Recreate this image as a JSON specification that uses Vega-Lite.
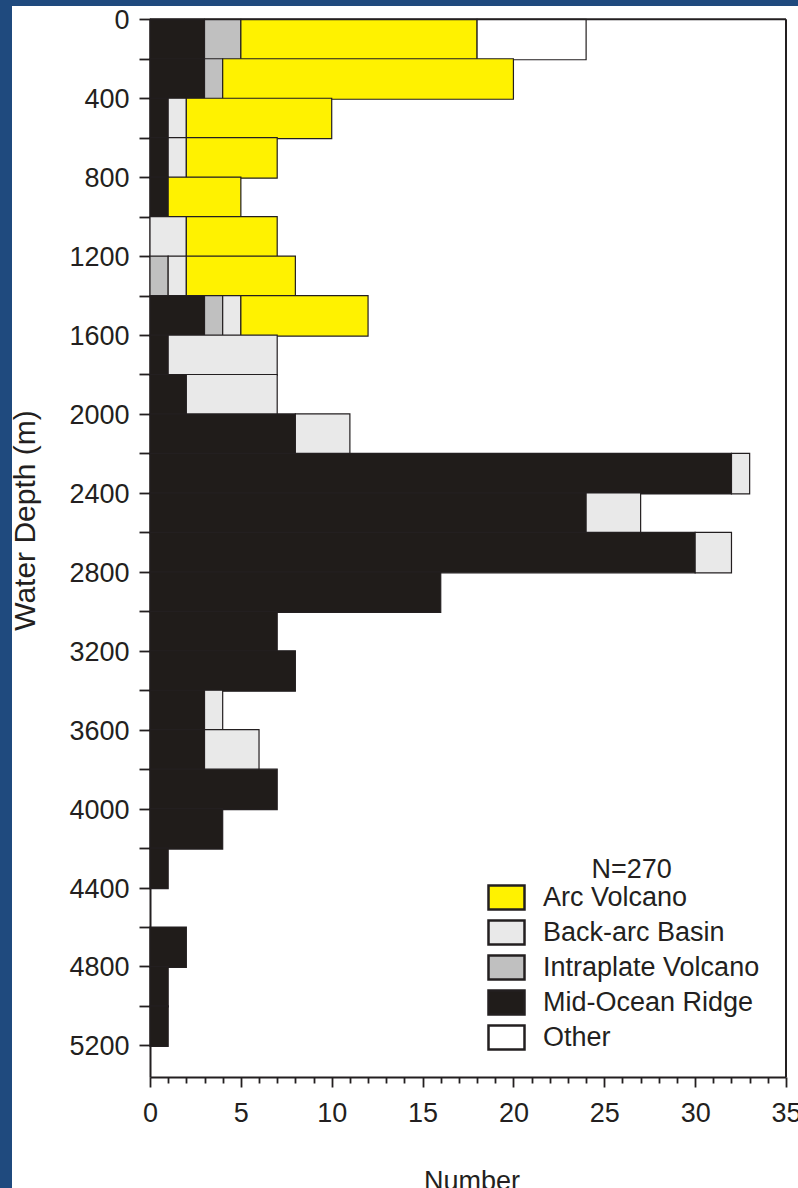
{
  "$schema": "https://vega.github.io/schema/vega-lite/v6.json",
  "width": 786,
  "height": 1182,
  "autosize": {"type": "none"},
  "padding": {"left": 12, "top": 6, "right": 0, "bottom": 0},
  "background": "#1f4a7e",
  "config": {
    "view": {"fill": "#ffffff", "stroke": null},
    "font": "Liberation Sans",
    "axis": {
      "labelFont": "Liberation Sans",
      "titleFont": "Liberation Sans",
      "labelColor": "#231f20",
      "titleColor": "#231f20",
      "domainColor": "#231f20",
      "tickColor": "#231f20",
      "grid": false,
      "labelOverlap": false,
      "labelFlush": false,
      "labelBound": false,
      "labelFontSize": 27,
      "titleFontWeight": "normal",
      "tickWidth": 1.8,
      "domainWidth": 2
    },
    "axisY": {
      "offset": -138,
      "labelPadding": 10,
      "labelOffset": 1.5,
      "labelBaseline": "middle",
      "tickSize": 11,
      "titleFontSize": 30,
      "titleAngle": -90,
      "titleAlign": "center",
      "titleBaseline": "middle",
      "titleX": -125,
      "titleY": 514
    },
    "axisX": {
      "offset": -111,
      "labelPadding": 13,
      "labelBaseline": "top",
      "titleFontSize": 27,
      "titleBaseline": "top",
      "titleX": 459.5,
      "titleY": 91
    }
  },
  "layer": [
    {
      "data": {
        "values": [
          {"d0": 0, "d1": 200, "type": "Mid-Ocean Ridge", "n": 3},
          {"d0": 0, "d1": 200, "type": "Intraplate Volcano", "n": 2},
          {"d0": 0, "d1": 200, "type": "Arc Volcano", "n": 13},
          {"d0": 0, "d1": 200, "type": "Other", "n": 6},
          {"d0": 200, "d1": 400, "type": "Mid-Ocean Ridge", "n": 3},
          {"d0": 200, "d1": 400, "type": "Intraplate Volcano", "n": 1},
          {"d0": 200, "d1": 400, "type": "Arc Volcano", "n": 16},
          {"d0": 400, "d1": 600, "type": "Mid-Ocean Ridge", "n": 1},
          {"d0": 400, "d1": 600, "type": "Back-arc Basin", "n": 1},
          {"d0": 400, "d1": 600, "type": "Arc Volcano", "n": 8},
          {"d0": 600, "d1": 800, "type": "Mid-Ocean Ridge", "n": 1},
          {"d0": 600, "d1": 800, "type": "Back-arc Basin", "n": 1},
          {"d0": 600, "d1": 800, "type": "Arc Volcano", "n": 5},
          {"d0": 800, "d1": 1000, "type": "Mid-Ocean Ridge", "n": 1},
          {"d0": 800, "d1": 1000, "type": "Arc Volcano", "n": 4},
          {"d0": 1000, "d1": 1200, "type": "Back-arc Basin", "n": 2},
          {"d0": 1000, "d1": 1200, "type": "Arc Volcano", "n": 5},
          {"d0": 1200, "d1": 1400, "type": "Intraplate Volcano", "n": 1},
          {"d0": 1200, "d1": 1400, "type": "Back-arc Basin", "n": 1},
          {"d0": 1200, "d1": 1400, "type": "Arc Volcano", "n": 6},
          {"d0": 1400, "d1": 1600, "type": "Mid-Ocean Ridge", "n": 3},
          {"d0": 1400, "d1": 1600, "type": "Intraplate Volcano", "n": 1},
          {"d0": 1400, "d1": 1600, "type": "Back-arc Basin", "n": 1},
          {"d0": 1400, "d1": 1600, "type": "Arc Volcano", "n": 7},
          {"d0": 1600, "d1": 1800, "type": "Mid-Ocean Ridge", "n": 1},
          {"d0": 1600, "d1": 1800, "type": "Back-arc Basin", "n": 6},
          {"d0": 1800, "d1": 2000, "type": "Mid-Ocean Ridge", "n": 2},
          {"d0": 1800, "d1": 2000, "type": "Back-arc Basin", "n": 5},
          {"d0": 2000, "d1": 2200, "type": "Mid-Ocean Ridge", "n": 8},
          {"d0": 2000, "d1": 2200, "type": "Back-arc Basin", "n": 3},
          {"d0": 2200, "d1": 2400, "type": "Mid-Ocean Ridge", "n": 32},
          {"d0": 2200, "d1": 2400, "type": "Back-arc Basin", "n": 1},
          {"d0": 2400, "d1": 2600, "type": "Mid-Ocean Ridge", "n": 24},
          {"d0": 2400, "d1": 2600, "type": "Back-arc Basin", "n": 3},
          {"d0": 2600, "d1": 2800, "type": "Mid-Ocean Ridge", "n": 30},
          {"d0": 2600, "d1": 2800, "type": "Back-arc Basin", "n": 2},
          {"d0": 2800, "d1": 3000, "type": "Mid-Ocean Ridge", "n": 16},
          {"d0": 3000, "d1": 3200, "type": "Mid-Ocean Ridge", "n": 7},
          {"d0": 3200, "d1": 3400, "type": "Mid-Ocean Ridge", "n": 8},
          {"d0": 3400, "d1": 3600, "type": "Mid-Ocean Ridge", "n": 3},
          {"d0": 3400, "d1": 3600, "type": "Back-arc Basin", "n": 1},
          {"d0": 3600, "d1": 3800, "type": "Mid-Ocean Ridge", "n": 3},
          {"d0": 3600, "d1": 3800, "type": "Back-arc Basin", "n": 3},
          {"d0": 3800, "d1": 4000, "type": "Mid-Ocean Ridge", "n": 7},
          {"d0": 4000, "d1": 4200, "type": "Mid-Ocean Ridge", "n": 4},
          {"d0": 4200, "d1": 4400, "type": "Mid-Ocean Ridge", "n": 1},
          {"d0": 4600, "d1": 4800, "type": "Mid-Ocean Ridge", "n": 2},
          {"d0": 4800, "d1": 5000, "type": "Mid-Ocean Ridge", "n": 1},
          {"d0": 5000, "d1": 5200, "type": "Mid-Ocean Ridge", "n": 1}
        ]
      },
      "transform": [
        {"calculate": "indexof(['Mid-Ocean Ridge','Intraplate Volcano','Back-arc Basin','Arc Volcano','Other'], datum.type)", "as": "stackRank"}
      ],
      "mark": {"type": "bar", "stroke": "#231f20", "strokeWidth": 1.2},
      "encoding": {
        "y": {
          "field": "d0",
          "type": "quantitative",
          "bin": {"binned": true, "step": 200},
          "scale": {"domain": [0, 5360], "range": [13.3, 1071], "nice": false, "zero": false},
          "axis": {
            "values": [0, 200, 400, 600, 800, 1000, 1200, 1400, 1600, 1800, 2000, 2200, 2400, 2600, 2800, 3000, 3200, 3400, 3600, 3800, 4000, 4200, 4400, 4600, 4800, 5000, 5200],
            "labelExpr": "datum.value % 400 === 0 ? datum.value + '' : ''",
            "title": "Water Depth (m)"
          }
        },
        "y2": {"field": "d1"},
        "x": {
          "field": "n",
          "type": "quantitative",
          "stack": "zero",
          "scale": {"domain": [0, 35], "range": [138, 774], "nice": false},
          "axis": {
            "values": [0, 1, 2, 3, 4, 5, 6, 7, 8, 9, 10, 11, 12, 13, 14, 15, 16, 17, 18, 19, 20, 21, 22, 23, 24, 25, 26, 27, 28, 29, 30, 31, 32, 33, 34, 35],
            "labelExpr": "datum.value % 5 === 0 ? datum.value + '' : ''",
            "tickSize": {"condition": {"test": "datum.value % 5 === 0", "value": 10}, "value": 6},
            "title": "Number"
          }
        },
        "color": {
          "field": "type",
          "type": "nominal",
          "scale": {
            "domain": ["Arc Volcano", "Back-arc Basin", "Intraplate Volcano", "Mid-Ocean Ridge", "Other"],
            "range": ["#fff200", "#e9e9e9", "#c0c0c0", "#201c1a", "#ffffff"]
          },
          "legend": {
            "title": null,
            "orient": "none",
            "legendX": 481,
            "legendY": 878,
            "symbolType": "M-1.5,-1H1.5V1H-1.5Z",
            "symbolSize": 576,
            "symbolStrokeColor": "#231f20",
            "symbolStrokeWidth": 2.5,
            "symbolOpacity": 1,
            "labelFont": "Liberation Sans",
            "labelFontSize": 27,
            "labelColor": "#231f20",
            "labelOffset": 23,
            "labelLimit": 0,
            "rowPadding": 0,
            "padding": 0
          }
        },
        "order": {"field": "stackRank", "type": "quantitative"}
      }
    },
    {
      "data": {"values": [{"edge": "top"}]},
      "mark": {"type": "rule", "color": "#231f20", "strokeWidth": 2},
      "encoding": {
        "x": {
          "datum": 0,
          "type": "quantitative",
          "axis": {
            "values": [0, 1, 2, 3, 4, 5, 6, 7, 8, 9, 10, 11, 12, 13, 14, 15, 16, 17, 18, 19, 20, 21, 22, 23, 24, 25, 26, 27, 28, 29, 30, 31, 32, 33, 34, 35],
            "labelExpr": "datum.value % 5 === 0 ? datum.value + '' : ''",
            "tickSize": {"condition": {"test": "datum.value % 5 === 0", "value": 10}, "value": 6},
            "title": "Number"
          }
        },
        "x2": {"datum": 35},
        "y": {
          "datum": 0,
          "type": "quantitative",
          "axis": {
            "values": [0, 200, 400, 600, 800, 1000, 1200, 1400, 1600, 1800, 2000, 2200, 2400, 2600, 2800, 3000, 3200, 3400, 3600, 3800, 4000, 4200, 4400, 4600, 4800, 5000, 5200],
            "labelExpr": "datum.value % 400 === 0 ? datum.value + '' : ''",
            "title": "Water Depth (m)"
          }
        }
      }
    },
    {
      "data": {"values": [{"edge": "right"}]},
      "mark": {"type": "rule", "color": "#231f20", "strokeWidth": 2},
      "encoding": {
        "x": {
          "datum": 35,
          "type": "quantitative",
          "axis": {
            "values": [0, 1, 2, 3, 4, 5, 6, 7, 8, 9, 10, 11, 12, 13, 14, 15, 16, 17, 18, 19, 20, 21, 22, 23, 24, 25, 26, 27, 28, 29, 30, 31, 32, 33, 34, 35],
            "labelExpr": "datum.value % 5 === 0 ? datum.value + '' : ''",
            "tickSize": {"condition": {"test": "datum.value % 5 === 0", "value": 10}, "value": 6},
            "title": "Number"
          }
        },
        "y": {
          "datum": 0,
          "type": "quantitative",
          "axis": {
            "values": [0, 200, 400, 600, 800, 1000, 1200, 1400, 1600, 1800, 2000, 2200, 2400, 2600, 2800, 3000, 3200, 3400, 3600, 3800, 4000, 4200, 4400, 4600, 4800, 5000, 5200],
            "labelExpr": "datum.value % 400 === 0 ? datum.value + '' : ''",
            "title": "Water Depth (m)"
          }
        },
        "y2": {"datum": 5360}
      }
    },
    {
      "data": {"values": [{"label": "N=270"}]},
      "mark": {"type": "text", "font": "Liberation Sans", "fontSize": 27, "color": "#231f20", "align": "center", "baseline": "middle"},
      "encoding": {
        "text": {"field": "label"},
        "x": {
          "datum": 26.5,
          "type": "quantitative",
          "axis": {
            "values": [0, 1, 2, 3, 4, 5, 6, 7, 8, 9, 10, 11, 12, 13, 14, 15, 16, 17, 18, 19, 20, 21, 22, 23, 24, 25, 26, 27, 28, 29, 30, 31, 32, 33, 34, 35],
            "labelExpr": "datum.value % 5 === 0 ? datum.value + '' : ''",
            "tickSize": {"condition": {"test": "datum.value % 5 === 0", "value": 10}, "value": 6},
            "title": "Number"
          }
        },
        "y": {
          "datum": 4310,
          "type": "quantitative",
          "axis": {
            "values": [0, 200, 400, 600, 800, 1000, 1200, 1400, 1600, 1800, 2000, 2200, 2400, 2600, 2800, 3000, 3200, 3400, 3600, 3800, 4000, 4200, 4400, 4600, 4800, 5000, 5200],
            "labelExpr": "datum.value % 400 === 0 ? datum.value + '' : ''",
            "title": "Water Depth (m)"
          }
        }
      }
    }
  ]
}
